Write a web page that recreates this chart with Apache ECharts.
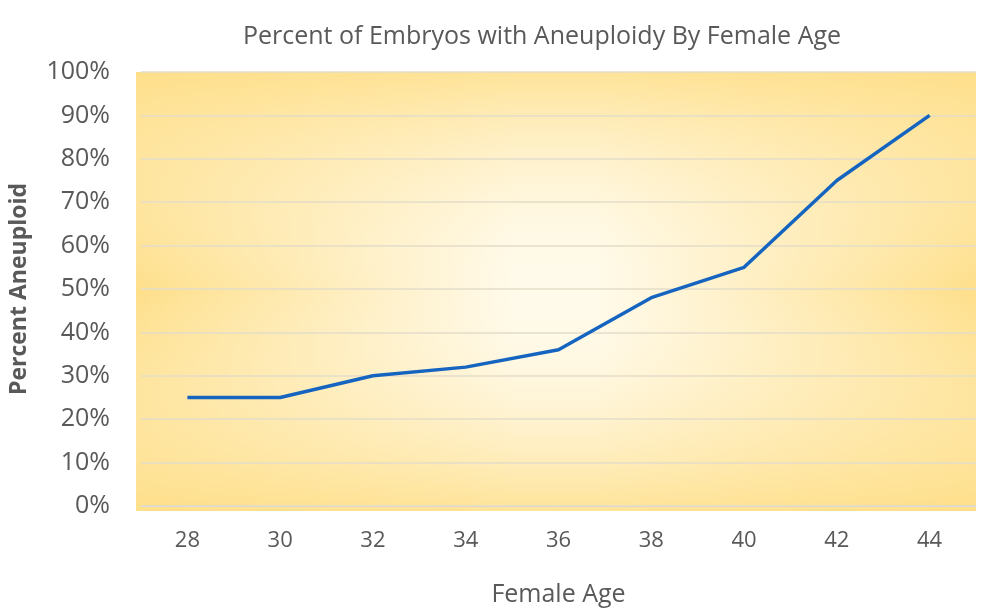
<!DOCTYPE html>
<html><head><meta charset="utf-8">
<script src="https://cdn.jsdelivr.net/npm/echarts@6/dist/echarts.min.js"></script>
<style>html,body{margin:0;padding:0;background:#fff}#c{width:986px;height:612px}</style>
</head><body><div id="c"></div>
<script>
var ages = ['28','30','32','34','36','38','40','42','44'];
var aneuploidPct = [25, 25, 30, 32, 36, 48, 55, 75, 90];
var yTicks = [0, 10, 20, 30, 40, 50, 60, 70, 80, 90, 100];

var G = {left: 136, top: 72, width: 840, height: 439};
var font = '"Open Sans", sans-serif';
var chart = echarts.init(document.getElementById('c'));
chart.setOption({
  backgroundColor: '#ffffff',
  animation: false,
  title: {
    text: 'Percent of Embryos with Aneuploidy By Female Age',
    left: 537, top: 19, textAlign: 'center',
    textStyle: {fontFamily: font, fontSize: 25, fontWeight: 'normal', color: '#595959'}
  },
  graphic: [
    {type: 'rect', z: -10, silent: true, shape: {x: G.left, y: G.top, width: G.width, height: G.height},
     style: {fill: new echarts.graphic.LinearGradient(0, 0, 1, 0, [
       {offset: 0, color: '#FEDF8A'}, {offset: 0.45, color: '#FFFAEA'}, {offset: 0.55, color: '#FFFAEA'}, {offset: 1, color: '#FEDF8A'}])}},
    {type: 'rect', z: -9, silent: true, shape: {x: G.left, y: G.top, width: G.width, height: G.height},
     style: {fill: new echarts.graphic.LinearGradient(0, 0, 0, 1, [
       {offset: 0, color: 'rgba(254,223,138,0.85)'}, {offset: 0.5, color: 'rgba(255,250,235,0)'}, {offset: 1, color: 'rgba(254,223,138,0.85)'}])}}
  ],
  grid: {left: G.left, top: G.top, width: G.width, height: G.height, containLabel: false},
  xAxis: {
    type: 'category', data: ages, boundaryGap: true,
    name: 'Female Age', nameLocation: 'middle', nameGap: 76,
    nameTextStyle: {fontFamily: font, fontSize: 25, color: '#595959'},
    axisLine: {show: true, lineStyle: {color: '#D9D9D9', width: 1}},
    axisTick: {show: false},
    axisLabel: {fontFamily: font, fontSize: 22, color: '#595959', margin: 24}
  },
  yAxis: {
    type: 'value', min: yTicks[0], max: yTicks[yTicks.length - 1], interval: 10,
    name: 'Percent Aneuploid', nameLocation: 'middle', nameGap: 110, nameRotate: 90,
    nameTextStyle: {fontFamily: font, fontSize: 23, fontWeight: 'bold', color: '#595959'},
    axisLine: {show: false}, axisTick: {show: false},
    axisLabel: {fontFamily: font, fontSize: 25, color: '#595959', margin: 31, formatter: '{value}%'},
    splitLine: {lineStyle: {color: '#E3DCC8', width: 1.5}}
  },
  series: [{
    type: 'line', data: aneuploidPct, symbol: 'none',
    lineStyle: {color: '#1565C0', width: 3.5}
  }]
});
</script></body></html>
